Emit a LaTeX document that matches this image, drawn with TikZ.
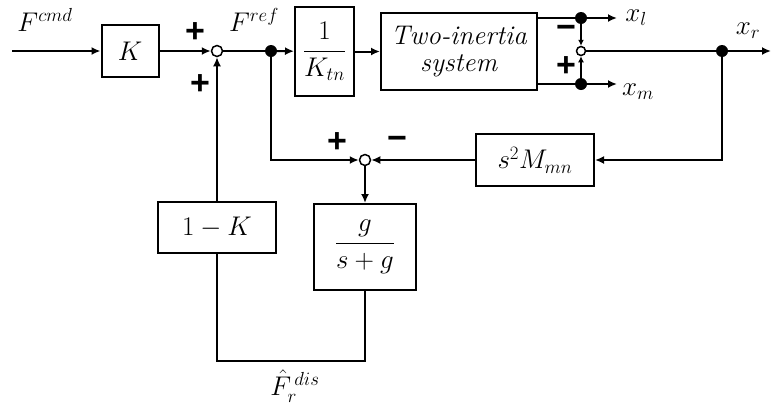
\RequirePackage{fix-cm}
\documentclass[tikz,border=0pt]{standalone}
\usepackage{amsmath}
\usepackage{fontspec}
\newfontfamily\signfont{Liberation Sans}
\usetikzlibrary{arrows.meta}
\tikzset{
  blk/.style={draw, line width=2pt, inner sep=0pt, font=\fontsize{27}{31}\selectfont},
  sumc/.style={circle, draw, line width=1.5pt, fill=white, minimum size=11pt, inner sep=0pt},
  dotc/.style={circle, fill=black, minimum size=12pt, inner sep=0pt},
  sgn/.style={font=\signfont\bfseries\fontsize{34}{34}\selectfont, inner sep=0pt},
  lbl/.style={font=\fontsize{27}{30}\selectfont, inner sep=0pt},
  sig/.style={line width=2pt},
  arr/.style={sig, -{Latex[length=9pt,width=8pt]}},
  sarr/.style={sig, -{Latex[length=6pt,width=6pt]}}
}
\begin{document}
\begin{tikzpicture}[x=1pt,y=-1pt]
\useasboundingbox (0,0) rectangle (771,405);
% nodes
\coordinate (in) at (12,51);
\node[blk, minimum width=57pt, minimum height=52pt] (K) at (130,51) {$K$};
\node[sumc] (s1) at (217,51) {};
\node[dotc] (b1) at (271,51) {};
\node[blk, minimum width=59pt, minimum height=89pt] (Kt) at (324.5,51.5) {$\dfrac{1}{K_{tn}}$};
\node[blk, minimum width=156pt, minimum height=77pt, align=center] (TI) at (459,51.5) {\textit{Two-inertia}\\[-4pt]\textit{system}};
\node[dotc] (dl) at (581,18) {};
\node[dotc] (dm) at (581,84) {};
\node[sumc, minimum size=9pt] (s3) at (581,51) {};
\coordinate (xl) at (617,18);
\coordinate (xm) at (617,84);
\node[dotc] (dr) at (722,51) {};
\coordinate (xr) at (771,51);
\node[blk, minimum width=118pt, minimum height=52pt] (M) at (535,160) {$s^2M_{mn}$};
\node[sumc] (s2) at (365,160) {};
\node[blk, minimum width=102pt, minimum height=86pt] (G) at (365,247) {$\dfrac{g}{s+g}$};
\node[blk, minimum width=118pt, minimum height=51pt] (OK) at (217,227.5) {$1-K$};
\coordinate (c1) at (217,361);
\coordinate (c2) at (365,361);
% connectors
\draw[arr] (in) -- (K);
\draw[arr] (K) -- (s1);
\draw[sig] (s1) -- (b1);
\draw[arr] (b1) -- (Kt);
\draw[arr] (Kt) -- (TI);
\draw[sig] (TI.east |- dl) -- (dl);
\draw[arr] (dl) -- (xl);
\draw[sig] (TI.east |- dm) -- (dm);
\draw[arr] (dm) -- (xm);
\draw[sarr] (dl) -- (s3);
\draw[sarr] (dm) -- (s3);
\draw[sig] (s3) -- (dr);
\draw[arr] (dr) -- (xr);
\draw[arr] (dr) |- (M);
\draw[arr] (M) -- (s2);
\draw[arr] (b1) |- (s2);
\draw[arr] (s2) -- (G);
\draw[arr] (OK) -- (s1);
\draw[sig] (OK.south) -- (c1) -- (c2) -- (G.south);
% labels
\node[lbl] (lcmd) at (45,20) {$F^{cmd}$};
\node[lbl] (lref) at (254,20) {$F^{ref}$};
\node[lbl] (lxl) at (636,18) {$x_l$};
\node[lbl] (lxm) at (638,92) {$x_m$};
\node[lbl] (lxr) at (748,31) {$x_r$};
\node[lbl] (ldis) at (295,386) {$\hat{F}_r^{\,dis}$};
% signs
\node[sgn] (p1) at (195,33) {+};
\node[sgn] (p2) at (200,85) {+};
\node[sgn] (m3) at (566,32) {\char"2212};
\node[sgn] (p3) at (566,67) {+};
\node[sgn] (p4) at (337,143) {+};
\node[sgn] (m4) at (397,143) {\char"2212};
\end{tikzpicture}
\end{document}
